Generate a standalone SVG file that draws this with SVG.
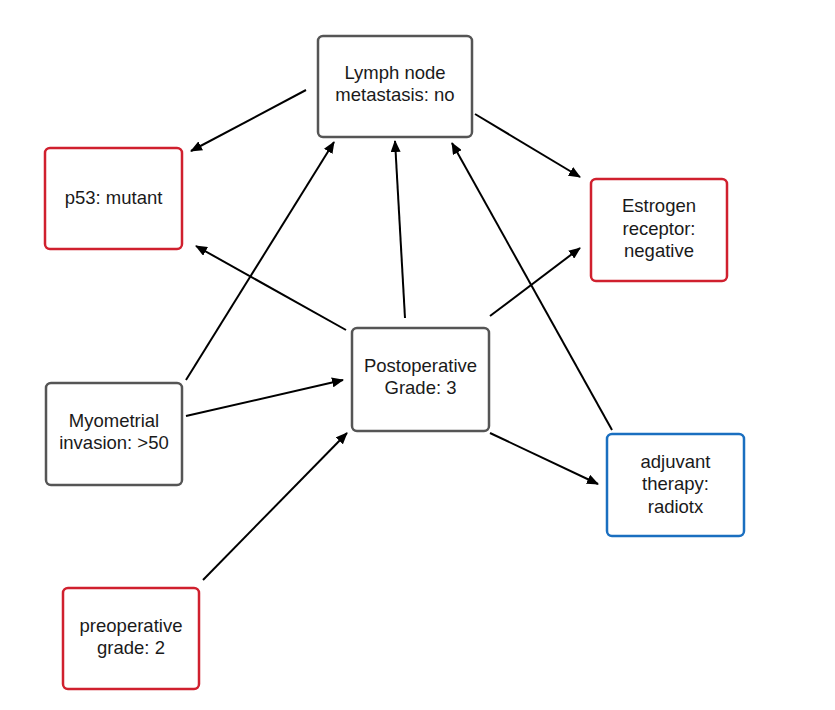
<svg xmlns="http://www.w3.org/2000/svg" width="835" height="710" viewBox="0 0 835 710">
  <style>
    .box { fill: #ffffff; stroke-width: 2.5; }
    .gray { stroke: #555555; }
    .red { stroke: #d0202e; }
    .blue { stroke: #1a6fc0; }
    .lbl { font-family: "Liberation Sans", Arial, sans-serif; font-size: 18.5px; fill: #1a1a1a; text-anchor: middle; }
    .edge { stroke: #000000; stroke-width: 2; fill: none; marker-end: url(#arrow); }
  </style>
  <defs>
    <marker id="arrow" viewBox="0 0 12 10" refX="11" refY="5" markerWidth="12" markerHeight="10" markerUnits="userSpaceOnUse" orient="auto">
      <path d="M0,0 L12,5 L0,10 Z" fill="#000000"/>
    </marker>
  </defs>
  <rect width="835" height="710" fill="#ffffff"/>

  <g id="connectors">
    <line class="edge" x1="306" y1="90" x2="191" y2="151"/>
    <line class="edge" x1="475" y1="114" x2="580" y2="177"/>
    <line class="edge" x1="346" y1="330" x2="196" y2="246"/>
    <line class="edge" x1="405" y1="318" x2="395" y2="141"/>
    <line class="edge" x1="490" y1="316" x2="580" y2="248"/>
    <line class="edge" x1="490" y1="433" x2="598" y2="484"/>
    <line class="edge" x1="186" y1="380" x2="334" y2="142"/>
    <line class="edge" x1="186" y1="416" x2="343" y2="380"/>
    <line class="edge" x1="203" y1="580" x2="347" y2="433"/>
    <line class="edge" x1="612" y1="430" x2="452" y2="143"/>
  </g>

  <g id="lymph-node">
    <rect class="box gray" x="318" y="36" width="154" height="101" rx="5"/>
    <text class="lbl" x="395" y="79">Lymph node</text>
    <text class="lbl" x="395" y="101">metastasis: no</text>
  </g>

  <g id="p53">
    <rect class="box red" x="45" y="148" width="137" height="101" rx="5"/>
    <text class="lbl" x="113.5" y="204">p53: mutant</text>
  </g>

  <g id="estrogen-receptor">
    <rect class="box red" x="591" y="179" width="136" height="102" rx="5"/>
    <text class="lbl" x="659" y="212">Estrogen</text>
    <text class="lbl" x="659" y="235">receptor:</text>
    <text class="lbl" x="659" y="257">negative</text>
  </g>

  <g id="postoperative-grade">
    <rect class="box gray" x="352" y="328" width="137" height="103" rx="5"/>
    <text class="lbl" x="420.5" y="372">Postoperative</text>
    <text class="lbl" x="420.5" y="394">Grade: 3</text>
  </g>

  <g id="myometrial-invasion">
    <rect class="box gray" x="46" y="383" width="136" height="102" rx="5"/>
    <text class="lbl" x="114" y="427">Myometrial</text>
    <text class="lbl" x="114" y="449">invasion: &gt;50</text>
  </g>

  <g id="adjuvant-therapy">
    <rect class="box blue" x="607" y="434" width="137" height="102" rx="5"/>
    <text class="lbl" x="675.5" y="468">adjuvant</text>
    <text class="lbl" x="675.5" y="490">therapy:</text>
    <text class="lbl" x="675.5" y="513">radiotx</text>
  </g>

  <g id="preoperative-grade">
    <rect class="box red" x="63" y="588" width="136" height="101" rx="5"/>
    <text class="lbl" x="131" y="632">preoperative</text>
    <text class="lbl" x="131" y="654">grade: 2</text>
  </g>
</svg>
